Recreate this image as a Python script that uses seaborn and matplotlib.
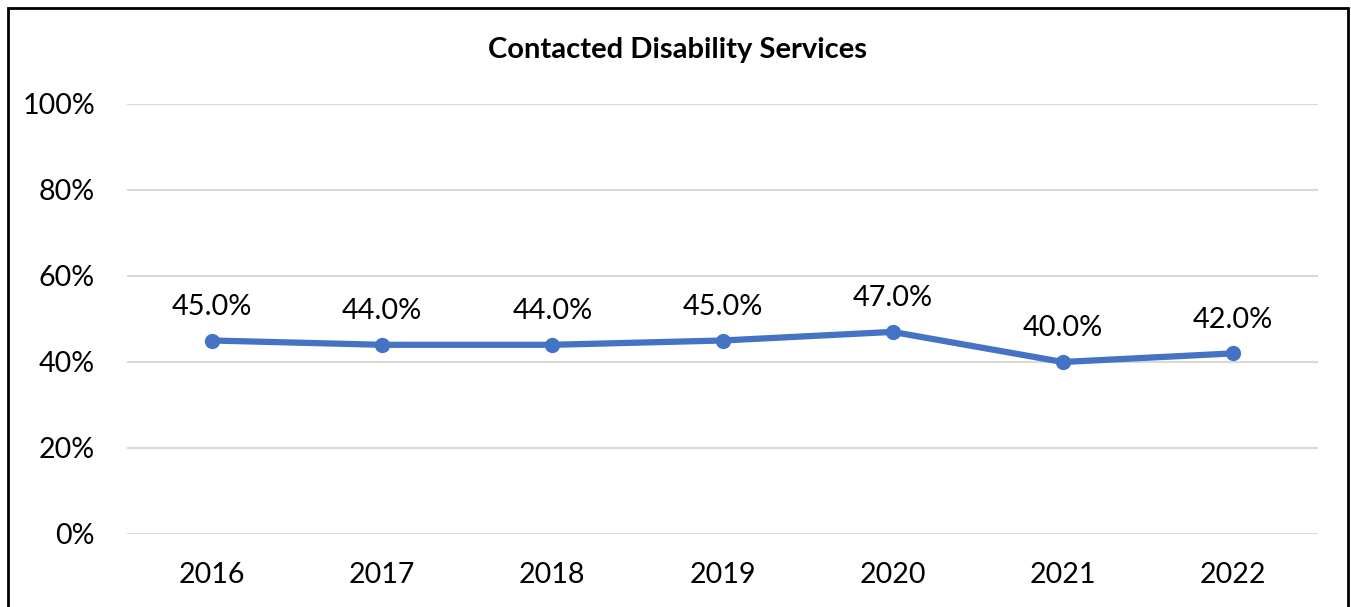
import matplotlib
matplotlib.use("Agg")
import matplotlib.pyplot as plt
import seaborn as sns
import pandas as pd
from matplotlib.patches import Rectangle
from matplotlib.ticker import PercentFormatter

years = ["2016", "2017", "2018", "2019", "2020", "2021", "2022"]
values = [45.0, 44.0, 44.0, 45.0, 47.0, 40.0, 42.0]
title = "Contacted Disability Services"

sns.set_theme(style="white")
plt.rcParams['font.family'] = ['Lato', 'DejaVu Sans']

df = pd.DataFrame({"year": years, "value": values})

fig = plt.figure(figsize=(13.51, 6.07), dpi=100)
ax = fig.add_axes([127/1351, 73/607, (1318-127)/1351, (534-104)/607])

sns.lineplot(data=df, x="year", y="value", ax=ax, color="#4472C4",
             linewidth=4.5, marker="o", markersize=11, markeredgewidth=0,
             sort=False)

for i, v in enumerate(values):
    ax.annotate(f"{v:.1f}%", (i, v), xytext=(0, 15), textcoords="offset points",
                ha="center", va="bottom", fontsize=20.8, color="#000000")

ax.set_ylim(0, 100)
ax.set_xlim(-0.5, len(years) - 0.5)
ax.set_yticks([0, 20, 40, 60, 80, 100])
ax.yaxis.set_major_formatter(PercentFormatter(decimals=0))
ax.grid(axis="y", color="#D9D9D9", linewidth=1.5)
ax.grid(axis="x", visible=False)
ax.set_axisbelow(True)
for s in ax.spines.values():
    s.set_visible(False)
ax.tick_params(axis="both", length=0, labelsize=20.6, labelcolor="#000000")
ax.tick_params(axis="y", pad=23)
ax.tick_params(axis="x", pad=20)
ax.set_xlabel("")
ax.set_ylabel("")

fig.text(678/1351, 1 - 50/607, title, ha="center", va="center",
         fontsize=21, fontweight="bold", color="#000000")

fig.patches.append(Rectangle((8/1351, -0.05), (1348-8)/1351, 1 - 8/607 + 0.05,
                             transform=fig.transFigure, fill=False,
                             edgecolor="#000000", linewidth=2))

fig.savefig("out.png", dpi=100)
